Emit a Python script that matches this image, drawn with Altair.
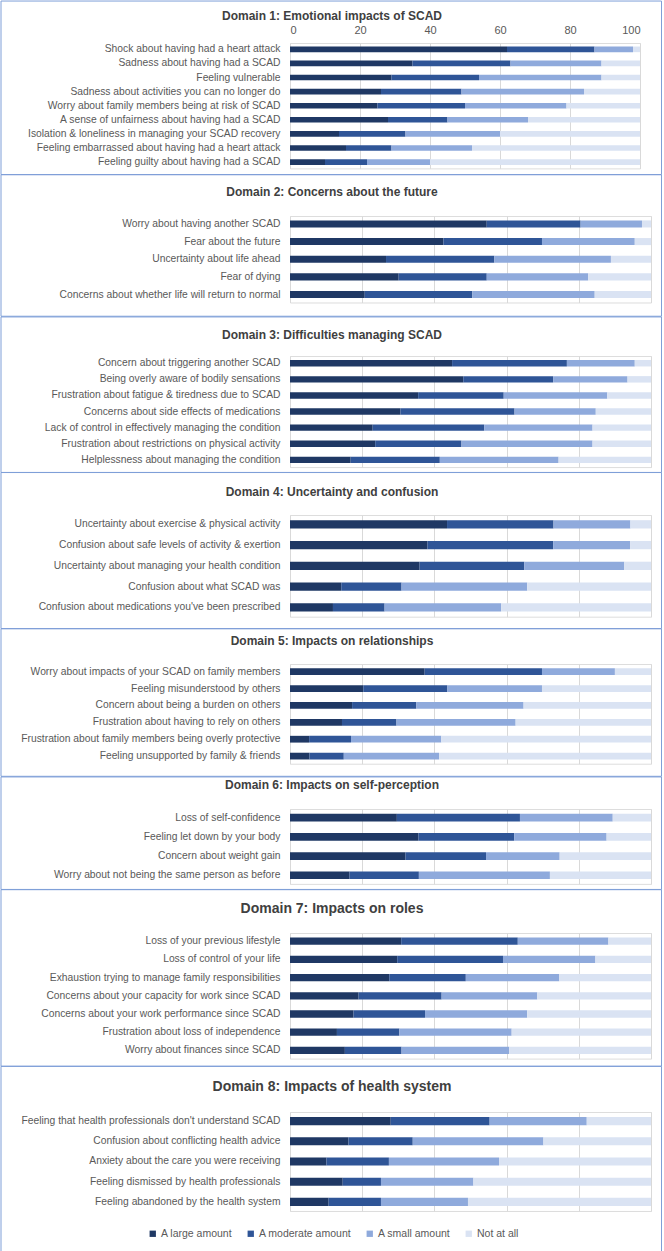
import altair as alt
import pandas as pd

CATS = ["A large amount", "A moderate amount", "A small amount", "Not at all"]
COLORS = ["#1f3864", "#2f5597", "#8faadc", "#dae3f3"]

d1_title = "Domain 1: Emotional impacts of SCAD"
d1_items = ["Shock about having had a heart attack", "Sadness about having had a SCAD",
            "Feeling vulnerable", "Sadness about activities you can no longer do",
            "Worry about family members being at risk of SCAD", "A sense of unfairness about having had a SCAD",
            "Isolation & loneliness in managing your SCAD recovery",
            "Feeling embarrassed about having had a heart attack", "Feeling guilty about having had a SCAD"]
d1_large = [62, 35, 29, 26, 25, 28, 14, 16, 10]
d1_moderate = [25, 28, 25, 23, 25, 17, 19, 13, 12]
d1_small = [11, 26, 35, 35, 29, 23, 27, 23, 18]
d1_none = [2, 11, 11, 16, 21, 32, 40, 48, 60]

d2_title = "Domain 2: Concerns about the future"
d2_items = ["Worry about having another SCAD", "Fear about the future", "Uncertainty about life ahead",
            "Fear of dying", "Concerns about whether life will return to normal"]
d2_large = [54.5, 42.5, 26.6, 30.1, 20.7]
d2_moderate = [26.0, 27.3, 30.0, 24.4, 29.8]
d2_small = [17.0, 25.7, 32.3, 28.1, 33.9]
d2_none = [2.5, 4.5, 11.1, 17.4, 15.6]

d3_title = "Domain 3: Difficulties managing SCAD"
d3_items = ["Concern about triggering another SCAD", "Being overly aware of bodily sensations",
            "Frustration about fatigue & tiredness due to SCAD", "Concerns about side effects of medications",
            "Lack of control in effectively managing the condition",
            "Frustration about restrictions on physical activity", "Helplessness about managing the condition"]
d3_large = [44.9, 48.0, 35.5, 30.6, 22.9, 23.6, 16.8]
d3_moderate = [31.8, 24.9, 23.7, 31.6, 30.9, 23.9, 24.7]
d3_small = [18.8, 20.6, 28.7, 22.5, 30.0, 36.3, 32.9]
d3_none = [4.5, 6.5, 12.1, 15.3, 16.2, 16.2, 25.6]

d4_title = "Domain 4: Uncertainty and confusion"
d4_items = ["Uncertainty about exercise & physical activity", "Confusion about safe levels of activity & exertion",
            "Uncertainty about managing your health condition", "Confusion about what SCAD was",
            "Confusion about medications you've been prescribed"]
d4_large = [43.5, 38.1, 35.9, 14.2, 11.9]
d4_moderate = [29.5, 34.8, 29.0, 16.7, 14.3]
d4_small = [21.3, 21.3, 27.7, 34.8, 32.3]
d4_none = [5.7, 5.8, 7.4, 34.3, 41.5]

d5_title = "Domain 5: Impacts on relationships"
d5_items = ["Worry about impacts of your SCAD on family members", "Feeling misunderstood by others",
            "Concern about being a burden on others", "Frustration about having to rely on others",
            "Frustration about family members being overly protective", "Feeling unsupported by family & friends"]
d5_large = [37.3, 20.3, 17.2, 14.4, 5.3, 5.4]
d5_moderate = [32.5, 23.3, 17.8, 15.1, 11.6, 9.5]
d5_small = [20.2, 26.2, 29.7, 33.0, 25.0, 26.4]
d5_none = [10.0, 30.2, 35.3, 37.5, 58.1, 58.7]

d6_title = "Domain 6: Impacts on self-perception"
d6_items = ["Loss of self-confidence", "Feeling let down by your body", "Concern about weight gain",
            "Worry about not being the same person as before"]
d6_large = [29.6, 35.6, 32.0, 16.5]
d6_moderate = [34.1, 26.5, 22.3, 19.2]
d6_small = [25.7, 25.6, 20.4, 36.3]
d6_none = [10.6, 12.3, 25.3, 28.0]

d7_title = "Domain 7: Impacts on roles"
d7_items = ["Loss of your previous lifestyle", "Loss of control of your life",
            "Exhaustion trying to manage family responsibilities", "Concerns about your capacity for work since SCAD",
            "Concerns about your work performance since SCAD", "Frustration about loss of independence",
            "Worry about finances since SCAD"]
d7_large = [30.8, 29.7, 27.5, 19.0, 17.6, 13.0, 15.2]
d7_moderate = [32.3, 29.3, 21.2, 23.0, 19.8, 17.3, 15.7]
d7_small = [25.1, 25.6, 25.9, 26.5, 28.3, 31.1, 29.8]
d7_none = [11.8, 15.4, 25.4, 31.5, 34.3, 38.6, 39.3]

d8_title = "Domain 8: Impacts of health system"
d8_items = ["Feeling that health professionals don't understand SCAD", "Confusion about conflicting health advice",
            "Anxiety about the care you were receiving", "Feeling dismissed by health professionals",
            "Feeling abandoned by the health system"]
d8_large = [27.9, 16.2, 10.1, 14.6, 10.7]
d8_moderate = [27.4, 17.8, 17.3, 10.6, 14.5]
d8_small = [26.9, 36.2, 30.5, 25.6, 24.1]
d8_none = [17.8, 29.8, 42.1, 49.2, 50.7]

X_TICKS = [0, 20, 40, 60, 80, 100]

FONT = "Liberation Sans, Arial, sans-serif"
LABEL_COLOR = "#595959"
TITLE_COLOR = "#404040"
FRAME_COLOR = "#7f9fd8"
P_IN, P_OUT = 0.6, 0.25

domains = [
    (d1_title, d1_items, d1_large, d1_moderate, d1_small, d1_none),
    (d2_title, d2_items, d2_large, d2_moderate, d2_small, d2_none),
    (d3_title, d3_items, d3_large, d3_moderate, d3_small, d3_none),
    (d4_title, d4_items, d4_large, d4_moderate, d4_small, d4_none),
    (d5_title, d5_items, d5_large, d5_moderate, d5_small, d5_none),
    (d6_title, d6_items, d6_large, d6_moderate, d6_small, d6_none),
    (d7_title, d7_items, d7_large, d7_moderate, d7_small, d7_none),
    (d8_title, d8_items, d8_large, d8_moderate, d8_small, d8_none),
]

# layout (page pixels): step, first bar centre, title y, frame top, frame bottom, title size, plot width
layout = [
    (14.09, 49.3, 15.7, 1.0, 174.5, 12, 350),
    (17.65, 223.7, 191.7, 174.5, 316.0, 12, 361),
    (16.1, 362.3, 334.0, 316.0, 471.5, 12, 361),
    (20.75, 523.3, 490.7, 471.5, 627.5, 12, 361),
    (16.9, 670.3, 640.0, 627.5, 775.0, 12, 361),
    (19.2, 815.7, 782.7, 775.0, 887.5, 12, 361),
    (18.2, 939.0, 906.7, 887.5, 1064.0, 14, 361),
    (20.2, 1118.7, 1085.0, 1064.0, 1249.5, 14, 361),
]

PLOT_LEFT = 290
panels = []
for i, ((title, items, a, b, c, d), (step, first, ty, ftop, fbot, tsize, W)) in enumerate(zip(domains, layout)):
    rows = []
    for j, it in enumerate(items):
        for k, v in enumerate([a[j], b[j], c[j], d[j]]):
            rows.append({"item": it, "cat": CATS[k], "k": k, "value": v})
    df = pd.DataFrame(rows)
    n = len(items)
    H = step * (n - P_IN + 2 * P_OUT)
    top = first - step * (P_OUT + (1 - P_IN) / 2)

    if i == 0:
        xaxis = alt.Axis(orient="top", values=X_TICKS, grid=True, ticks=False, tickSize=0, domain=False,
                         labelPadding=8, labelFontSize=11, labelColor=LABEL_COLOR, labelFont=FONT,
                         gridColor="#d9d9d9", title=None)
    else:
        xaxis = alt.Axis(orient="top", values=X_TICKS, grid=True, ticks=False, tickSize=0, domain=False,
                         labels=False, gridColor="#d9d9d9", title=None)

    color_scale = alt.Scale(domain=CATS, range=COLORS)
    if i == len(domains) - 1:
        legend = alt.Legend(orient="none", legendX=-142.5, legendY=(1232 - top) - 6,
                            direction="horizontal", title=None, symbolType="square", symbolSize=40,
                            symbolStrokeWidth=0, labelFont=FONT, labelFontSize=10.5, labelColor=LABEL_COLOR,
                            columnPadding=13, labelOffset=3, padding=0)
        color = alt.Color("cat:N", legend=legend, scale=color_scale)
    else:
        color = alt.Color("cat:N", legend=None, scale=color_scale)

    bars = alt.Chart(df).mark_bar().encode(
        x=alt.X("value:Q", stack="zero", scale=alt.Scale(domain=[0, 100], nice=False), axis=xaxis),
        y=alt.Y("item:N", sort=items, scale=alt.Scale(paddingInner=P_IN, paddingOuter=P_OUT),
                axis=alt.Axis(title=None, ticks=False, domain=False, labelPadding=10, labelLimit=0,
                              labelFont=FONT, labelFontSize=10.3, labelColor=LABEL_COLOR)),
        color=color,
        order=alt.Order("k:Q", sort="ascending"),
    )

    frame = alt.Chart(pd.DataFrame({"f": [0]})).mark_rect(
        fillOpacity=0, stroke=FRAME_COLOR, strokeWidth=1
    ).encode(
        x=alt.value(1.0 - PLOT_LEFT), x2=alt.value(661.5 - PLOT_LEFT),
        y=alt.value(ftop - top), y2=alt.value(fbot - top),
    )

    ttl = alt.Chart(pd.DataFrame({"t": [title]})).mark_text(
        font=FONT, fontWeight="bold", fontSize=tsize, color=TITLE_COLOR, align="center", baseline="middle"
    ).encode(
        text="t:N", x=alt.value(332 - PLOT_LEFT), y=alt.value(ty - top)
    )

    panel = alt.layer(frame, bars, ttl).properties(width=W, height=H)
    panels.append(panel)

chart = alt.vconcat(*panels, spacing=-3).resolve_scale(color="independent").resolve_legend(
    color="independent"
).properties(padding=0).configure_view(stroke="transparent").configure(background="white")

chart.save("out.html", embed_options={"renderer": "svg", "actions": False})
